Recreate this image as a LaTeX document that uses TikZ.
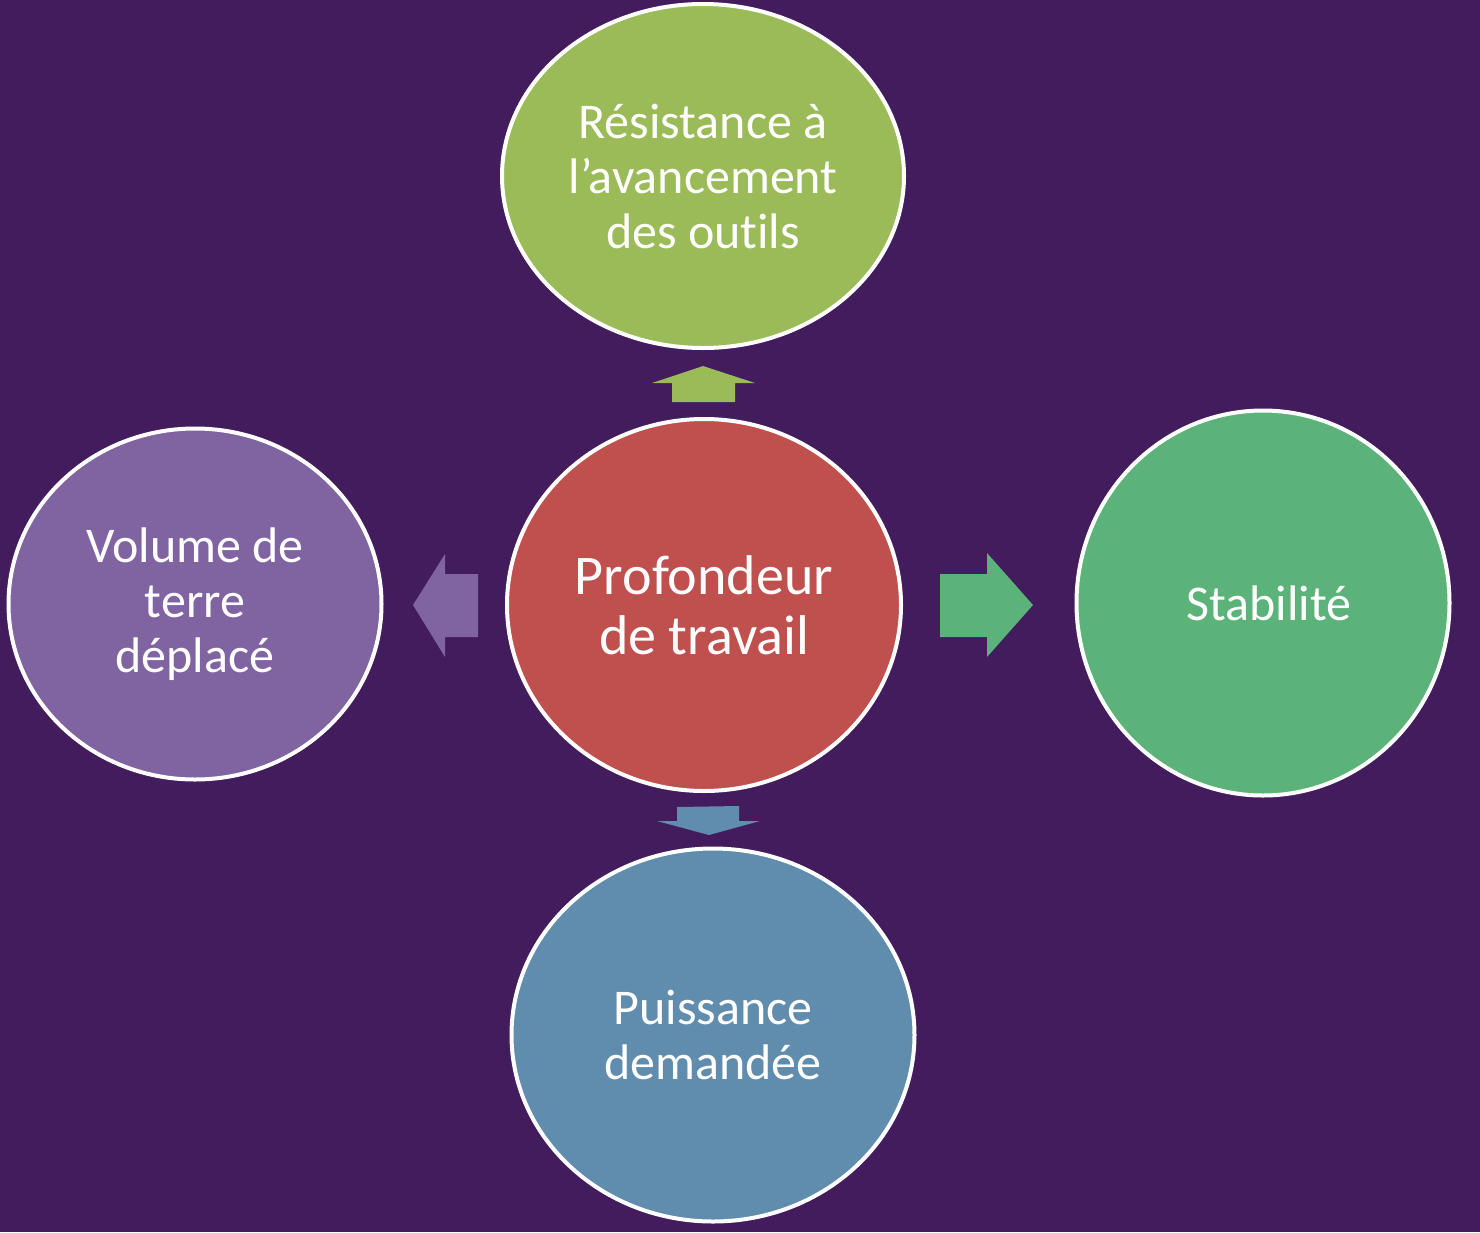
\documentclass[tikz,border=0pt]{standalone}
\usepackage{fontspec}
\setmainfont{Carlito}[Ligatures=NoCommon]
\definecolor{bg}{HTML}{421C5C}
\definecolor{cgreenA}{HTML}{9BBB59}
\definecolor{cred}{HTML}{C0504D}
\definecolor{cpurple}{HTML}{8064A2}
\definecolor{cgreenB}{HTML}{5CB37A}
\definecolor{cblue}{HTML}{608DAD}
\usetikzlibrary{shapes.geometric}
\begin{document}
\begin{tikzpicture}[x=1pt,y=-1pt,
  bubble/.style={ellipse,draw=white,line width=4pt,inner sep=0pt,text=white,align=center,
    font=\fontsize{50}{55}\selectfont}]
\fill[bg] (0,0) rectangle (1480,1232);
\useasboundingbox (0,0) rectangle (1480,1232);
\node[bubble,fill=cgreenA,minimum width=402,minimum height=344] (top) at (703,176) {Résistance à\\l’avancement\\des outils};
\node[bubble,fill=cred,minimum width=394,minimum height=372,font=\fontsize{56}{60}\selectfont] (center) at (704,605) {Profondeur\\de travail};
\node[bubble,fill=cpurple,minimum width=373,minimum height=351] (left) at (195,604) {Volume de\\terre\\déplacé};
\node[bubble,fill=cgreenB,minimum width=373,minimum height=385] (right) at (1263,603) {\hspace*{12pt}Stabilité};
\node[bubble,fill=cblue,minimum width=403,minimum height=373] (bottom) at (713,1035) {Puissance\\demandée};
% block arrows
\fill[cgreenA] (703,366) -- (755,383) -- (735,383) -- (735,402) -- (672,402) -- (672,383) -- (652,383) -- cycle;
\fill[cpurple] (413,605) -- (445,554) -- (445,574) -- (478,574) -- (478,637) -- (445,637) -- (445,657) -- cycle;
\fill[cgreenB] (1033,605) -- (987,553) -- (987,574) -- (940,574) -- (940,637) -- (987,637) -- (987,657) -- cycle;
\fill[cblue] (709,835) -- (760,821) -- (739,821) -- (739,806) -- (677,807) -- (677,821) -- (657,821) -- cycle;
\end{tikzpicture}
\end{document}
